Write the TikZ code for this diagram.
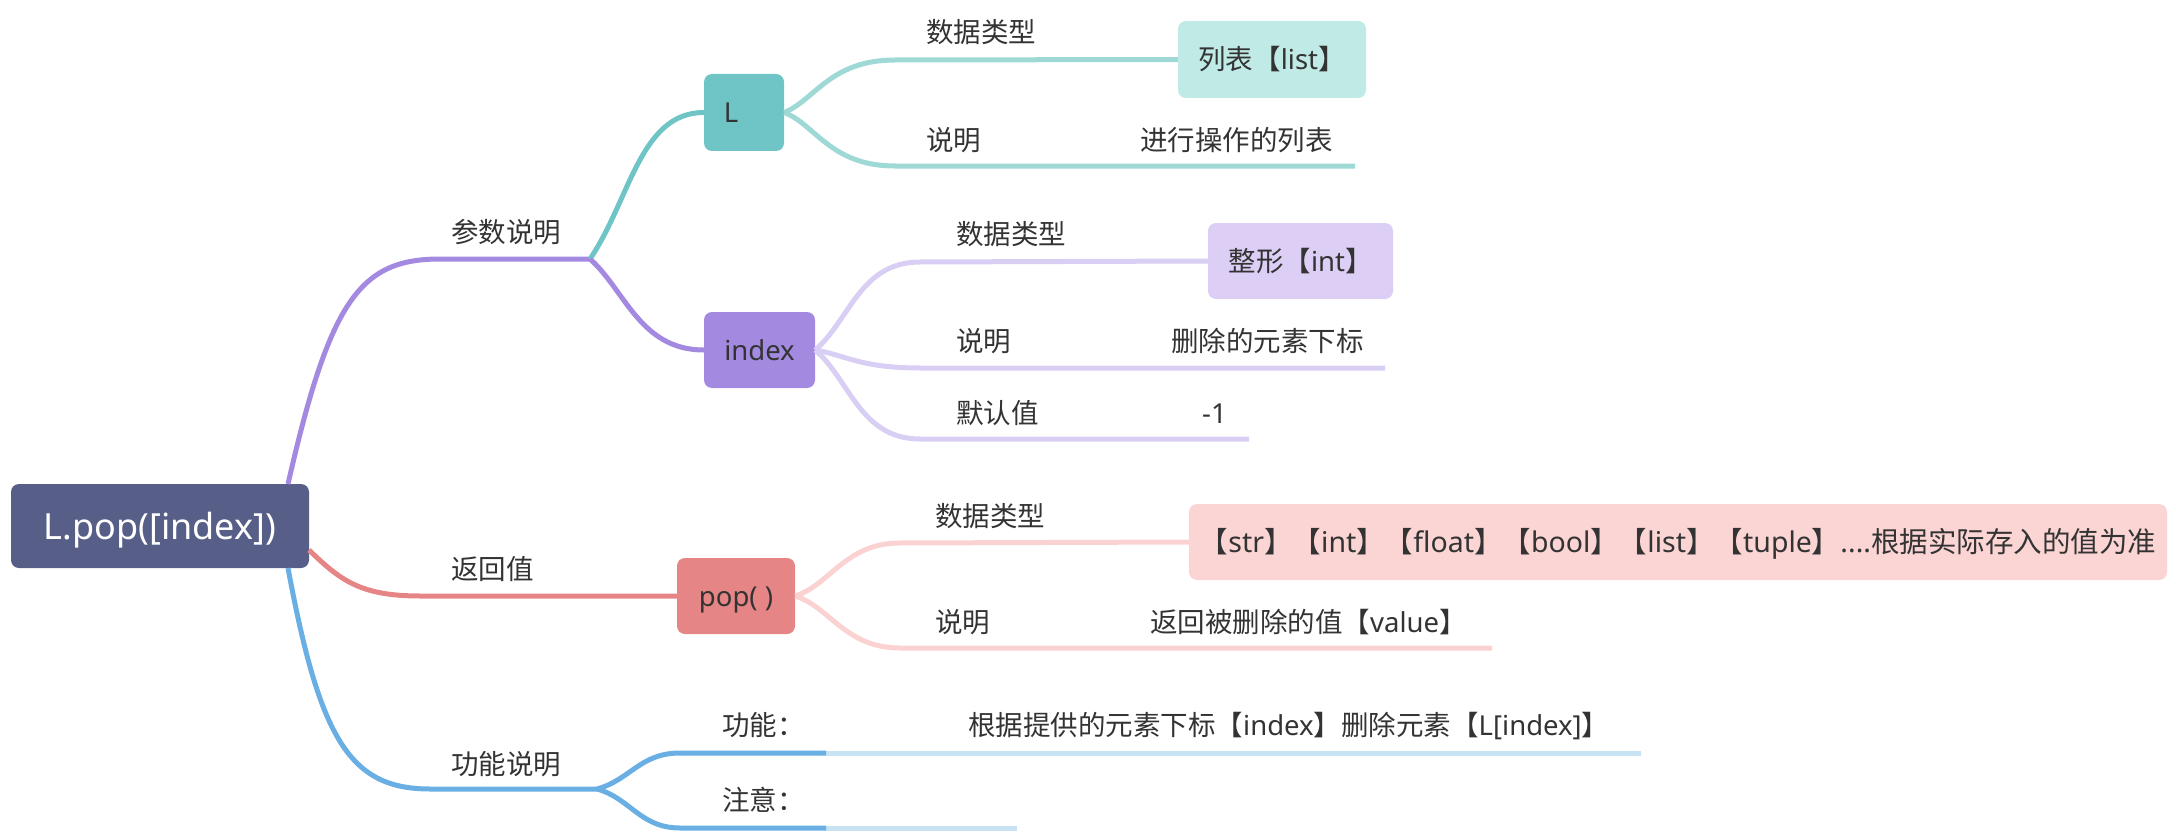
\documentclass[tikz,border=0pt]{standalone}
\usepackage{fontspec}
\setmainfont{Noto Sans CJK SC}
\newfontfamily\lat{Noto Sans}
\definecolor{rootc}{HTML}{575E88}
\definecolor{tealc}{HTML}{6FC5C5}
\definecolor{teall}{HTML}{9ED9D6}
\definecolor{tealb}{HTML}{C0EAE5}
\definecolor{purc}{HTML}{A38AE0}
\definecolor{purl}{HTML}{D9CEF3}
\definecolor{purb}{HTML}{DCCEF4}
\definecolor{redc}{HTML}{E58585}
\definecolor{redl}{HTML}{FAD2D2}
\definecolor{redb}{HTML}{FBD4D4}
\definecolor{bluec}{HTML}{6AAFE3}
\definecolor{bluel}{HTML}{C6E2F3}
\definecolor{txt}{HTML}{333333}
\begin{document}
\begin{tikzpicture}[x=1pt,y=-1pt,
  lbl/.style={inner sep=0pt, anchor=west, font=\fontsize{27.5}{30}\selectfont, text=txt, text height=24pt, text depth=3pt},
  box/.style={rounded corners=8pt, inner sep=0pt, font=\fontsize{27.5}{30}\selectfont, text=txt, text height=24pt, text depth=3pt},
  ln/.style={line width=5pt}
]
\useasboundingbox (0,0) rectangle (2176,832);
% ---------- nodes ----------
\node[box, fill=rootc, text=white, minimum width=298pt, minimum height=84pt,
  font=\fontsize{36}{40}\selectfont, text height=31pt, text depth=4pt] (root) at (160,526) {\lat L.pop([index])};
\node[box, fill=tealc, minimum width=80pt, minimum height=77pt] (L) at (744,112.5) {{\lat L}\kern26pt};
\node[box, fill=purc, minimum width=111pt, minimum height=76pt] (idx) at (759.5,350) {\lat index};
\node[box, fill=redc, minimum width=118pt, minimum height=76pt] (pop) at (736,596) {\lat pop( )};
\node[box, fill=tealb, minimum width=188pt, minimum height=77pt] (list) at (1272,59.5) {列表【{\lat list}】};
\node[box, fill=purb, minimum width=185pt, minimum height=76pt] (int) at (1300.5,261) {整形【{\lat int}】};
\node[box, fill=redb, minimum width=978pt, minimum height=76pt, font=\fontsize{28.5}{31}\selectfont] (types) at (1678,542) {【{\lat str}】【{\lat int}】【{\lat float}】【{\lat bool}】【{\lat list}】【{\lat tuple}】{\lat ....}根据实际存入的值为准};
% ---------- coordinates ----------
\coordinate (rtop) at (288,484);
\coordinate (rright) at (309,550);
\coordinate (rbot) at (288,568);
\coordinate (j1) at (590,259);
\coordinate (j3) at (597,789);
\coordinate (e1) at (1355,166);
\coordinate (e2) at (1385,368);
\coordinate (e3) at (1249,439);
\coordinate (e4) at (1492,648);
\coordinate (f1) at (826,753);
\coordinate (f1e) at (1641,753);
\coordinate (f2) at (826,828);
\coordinate (f2e) at (1017,828);
% ---------- connectors ----------
\draw[ln, purc] (rtop) .. controls (330,300) and (360,259) .. (440,259) -- (j1);
\draw[ln, redc] (rright) .. controls (340,580) and (360,596) .. (420,596) -- (pop.west);
\draw[ln, bluec] (rbot) .. controls (320,740) and (350,789) .. (430,789) -- (j3);
\draw[ln, tealc] (j1) .. controls (630,200) and (640,112.5) .. (L.west);
\draw[ln, purc] (j1) .. controls (625,290) and (640,350) .. (idx.west);
\draw[ln, teall] (L.east) .. controls (815,100) and (830,60) .. (895,60) -- (list.west);
\draw[ln, teall] (L.east) .. controls (815,124) and (830,166) .. (895,166) -- (e1);
\draw[ln, purl] (idx.east) .. controls (850,320) and (860,262) .. (920,262) -- (int.west);
\draw[ln, purl] (idx.east) .. controls (845,355) and (860,368) .. (920,368) -- (e2);
\draw[ln, purl] (idx.east) .. controls (850,380) and (860,439) .. (920,439) -- (e3);
\draw[ln, redl] (pop.east) .. controls (830,585) and (845,543) .. (900,543) -- (types.west);
\draw[ln, redl] (pop.east) .. controls (830,607) and (845,648) .. (900,648) -- (e4);
\draw[ln, bluel] (f1) -- (f1e);
\draw[ln, bluel] (f2) -- (f2e);
\draw[ln, bluec] (j3) .. controls (630,780) and (640,753) .. (680,753) -- (f1);
\draw[ln, bluec] (j3) .. controls (630,798) and (640,828) .. (680,828) -- (f2);
% ---------- labels ----------
\node[lbl] (t1) at (451,232) {参数说明};
\node[lbl] (t2) at (451,569) {返回值};
\node[lbl] (t3) at (451,764) {功能说明};
\node[lbl] (a1) at (926,32) {数据类型};
\node[lbl] (a2) at (926,140) {说明};
\node[lbl] (a3) at (1140,140) {进行操作的列表};
\node[lbl] (b1) at (956,234) {数据类型};
\node[lbl] (b2) at (956,341) {说明};
\node[lbl] (b3) at (1171,341) {删除的元素下标};
\node[lbl] (b4) at (956,413) {默认值};
\node[lbl] (b5) at (1202,413) {\lat -1};
\node[lbl] (c1) at (935,516) {数据类型};
\node[lbl] (c2) at (935,622) {说明};
\node[lbl] (c3) at (1150,622) {返回被删除的值【{\lat value}】};
\node[lbl] (d1) at (722,725) {功能：};
\node[lbl] (d2) at (968,725) {根据提供的元素下标【{\lat index}】删除元素【{\lat L[index]}】};
\node[lbl] (d3) at (722,800) {注意：};
\end{tikzpicture}
\end{document}
